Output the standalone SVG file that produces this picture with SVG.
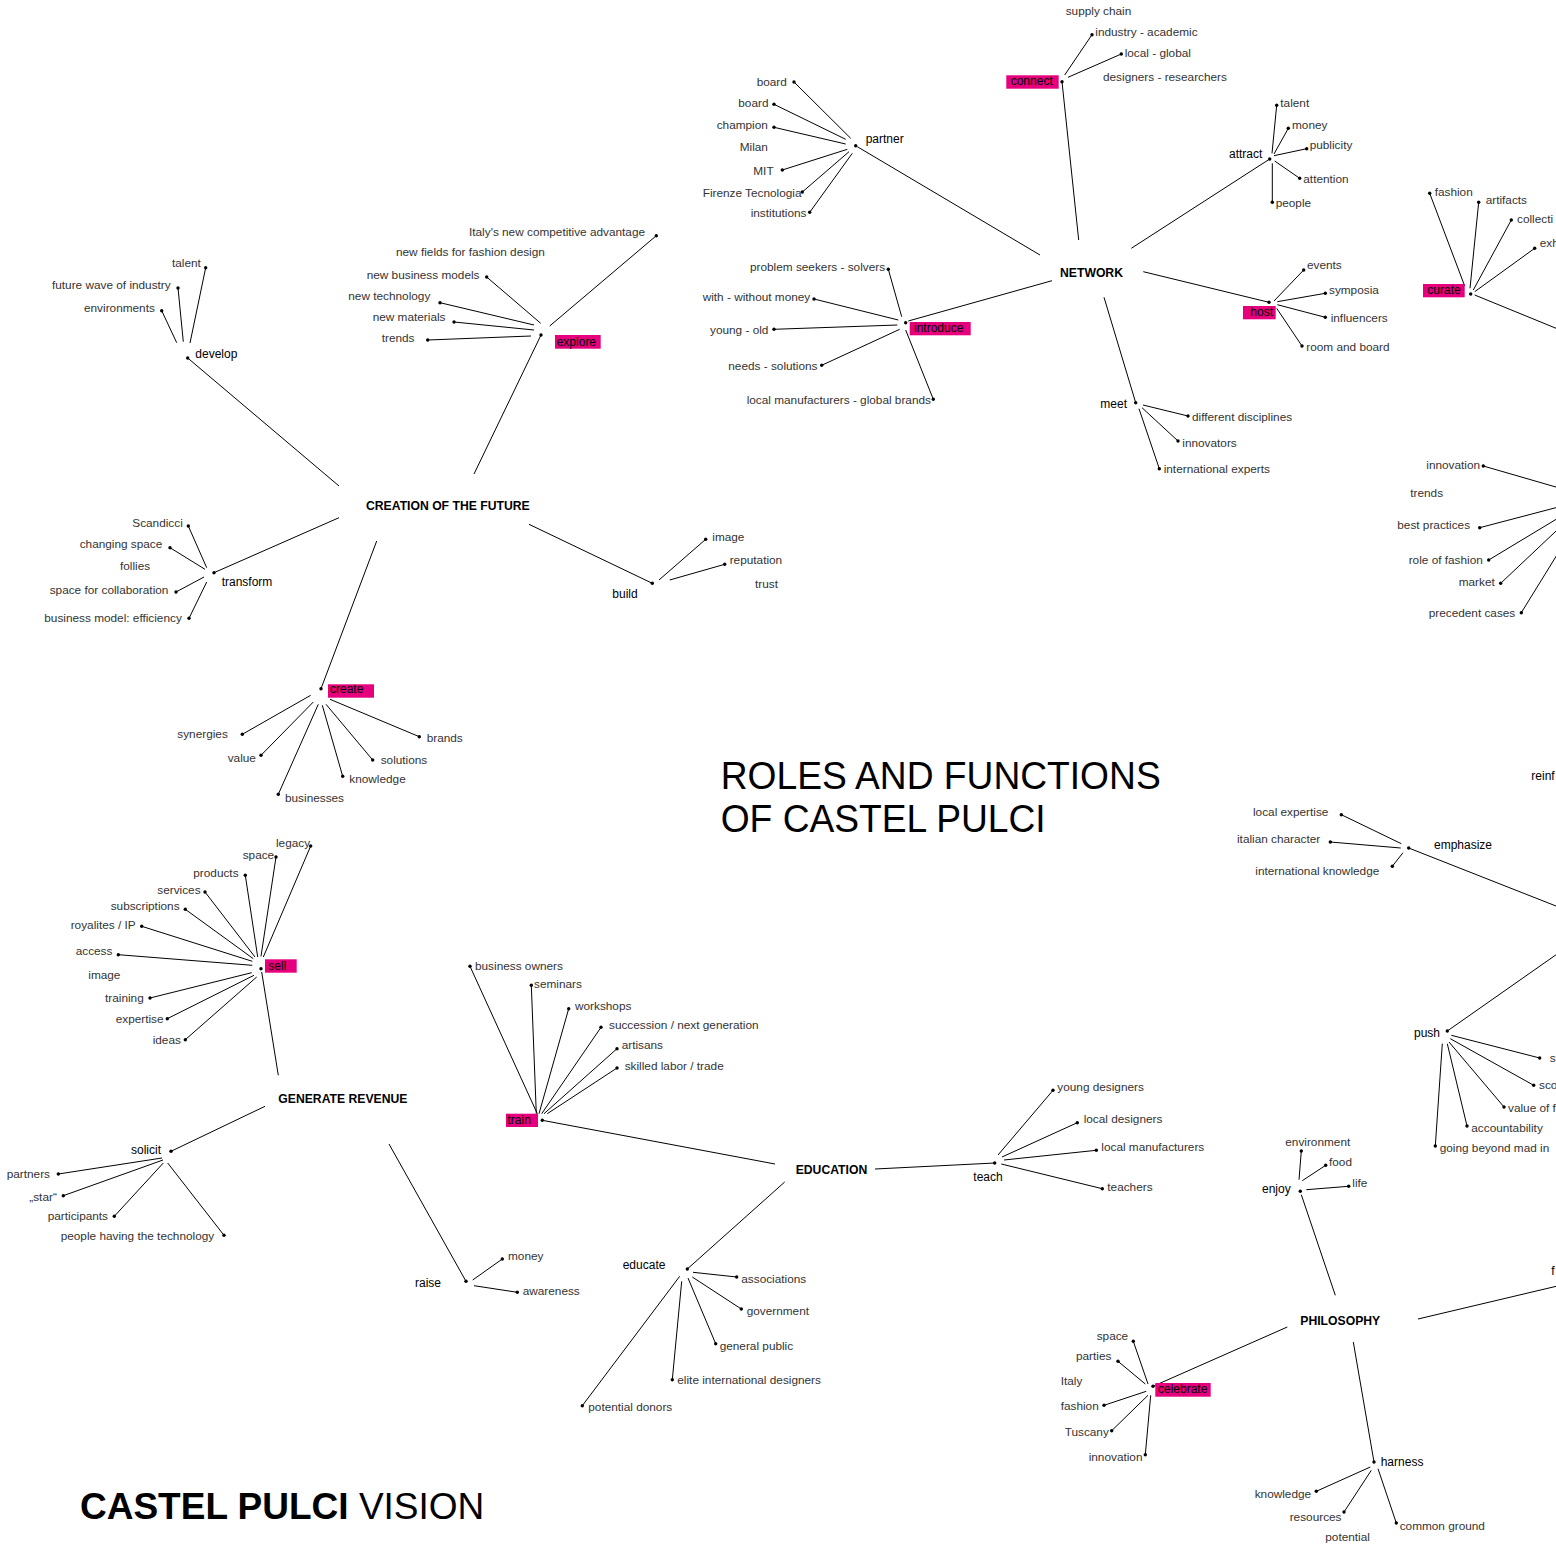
<svg xmlns="http://www.w3.org/2000/svg" xmlns:xlink="http://www.w3.org/1999/xlink" width="1556" height="1544" viewBox="0 0 1556 1544">
<style>
text{font-family:"Liberation Sans",Arial,Helvetica,sans-serif;font-size:12px}
.l{fill:#333;font-size:11.8px}
.v{fill:#000}
.c{fill:#000;font-weight:bold;font-size:12.2px}
.hl{fill:#e6007e}
.t{fill:#000;font-size:38px}
.b{fill:#000;font-size:37px}
#connectors line{stroke:#000;stroke-width:1;fill:none}
</style>
<defs><circle id="d" cx="0" cy="0" r="1.7" fill="#000"/></defs>
<rect width="1556" height="1544" fill="#fff"/>
<g id="connectors">
<line x1="205.7" y1="267.7" x2="190" y2="343"/><line x1="178" y1="288" x2="183.3" y2="341.7"/><line x1="161.7" y1="310.7" x2="176.7" y2="342.7"/><line x1="187.7" y1="358" x2="339" y2="486"/>
<line x1="656.3" y1="235.7" x2="549.7" y2="326"/><line x1="486.7" y1="277" x2="540.7" y2="323.3"/><line x1="440" y1="302.7" x2="534" y2="325"/><line x1="454" y1="322" x2="534" y2="330"/><line x1="427.7" y1="340" x2="531" y2="336"/><line x1="541" y1="335" x2="474" y2="474"/>
<line x1="339" y1="517.7" x2="214" y2="572.7"/><line x1="188.3" y1="526" x2="206.7" y2="567.7"/><line x1="170" y1="547.7" x2="205" y2="569.3"/><line x1="176" y1="592" x2="204" y2="577"/><line x1="189" y1="618.3" x2="206.7" y2="582"/>
<line x1="376.7" y1="541" x2="321" y2="688.7"/><line x1="242.3" y1="734.3" x2="310.7" y2="695.3"/><line x1="261" y1="755.3" x2="313.3" y2="702"/><line x1="278.3" y1="794.3" x2="318.3" y2="704.3"/><line x1="342.7" y1="776.3" x2="322.3" y2="705.3"/><line x1="372.7" y1="760" x2="326" y2="704.3"/><line x1="419.3" y1="736.7" x2="330" y2="699.3"/>
<line x1="529" y1="524.3" x2="652.3" y2="583.3"/><line x1="705.7" y1="539.3" x2="659" y2="580"/><line x1="724.7" y1="564.3" x2="669.7" y2="580"/>
<line x1="794" y1="82" x2="850.7" y2="138.3"/><line x1="774" y1="104.3" x2="845.7" y2="139.3"/><line x1="774" y1="127.3" x2="845.7" y2="144"/><line x1="782.3" y1="170" x2="847.3" y2="149.3"/><line x1="802.3" y1="192" x2="849" y2="151.7"/><line x1="809.7" y1="212.3" x2="852.3" y2="153.3"/><line x1="857.3" y1="146.7" x2="1040" y2="255"/>
<line x1="888.3" y1="269.3" x2="901.7" y2="316.7"/><line x1="814" y1="299" x2="898.3" y2="320"/><line x1="774" y1="329.3" x2="897.3" y2="325"/><line x1="821.7" y1="365.3" x2="899.7" y2="329.3"/><line x1="933.3" y1="399.3" x2="905.7" y2="330"/><line x1="908.3" y1="321" x2="1052" y2="280.7"/>
<line x1="1092" y1="34.7" x2="1064.7" y2="75"/><line x1="1121.3" y1="54" x2="1068" y2="77.3"/><line x1="1062" y1="81.7" x2="1078.7" y2="240"/>
<line x1="1131.3" y1="248.3" x2="1269.7" y2="159"/><line x1="1276.7" y1="105.3" x2="1272" y2="153.3"/><line x1="1288.3" y1="128.3" x2="1274" y2="154"/><line x1="1306.7" y1="148.7" x2="1274" y2="155.7"/><line x1="1299.7" y1="178.3" x2="1274.7" y2="161"/><line x1="1272.3" y1="202.3" x2="1272.3" y2="163.3"/>
<line x1="1143.3" y1="271.7" x2="1269" y2="302.3"/><line x1="1303.7" y1="270" x2="1274" y2="301"/><line x1="1325.3" y1="293.3" x2="1277.3" y2="301.7"/><line x1="1325.3" y1="317.3" x2="1277.3" y2="304.7"/><line x1="1302" y1="346" x2="1276.7" y2="308.3"/>
<line x1="1104" y1="297.3" x2="1135.7" y2="402.7"/><line x1="1188" y1="416" x2="1143" y2="405"/><line x1="1178" y1="441" x2="1142" y2="407.7"/><line x1="1159.3" y1="468.7" x2="1139" y2="408.7"/>
<line x1="1429.7" y1="193.3" x2="1464.7" y2="286"/><line x1="1478.7" y1="202.3" x2="1470" y2="288.3"/><line x1="1511.3" y1="220" x2="1473.3" y2="290"/><line x1="1534.7" y1="248.3" x2="1474.7" y2="291.7"/><line x1="1474.7" y1="295" x2="1560" y2="329.9"/>
<line x1="1483.3" y1="466" x2="1560" y2="488.2"/><line x1="1479.7" y1="527.7" x2="1560" y2="506.6"/><line x1="1488.7" y1="560" x2="1560" y2="517"/><line x1="1500.7" y1="583.3" x2="1560" y2="527.3"/><line x1="1521.3" y1="612.7" x2="1560" y2="550"/>
<line x1="1341.3" y1="814.7" x2="1401.3" y2="843.7"/><line x1="1330.3" y1="842" x2="1400.7" y2="848"/><line x1="1392.3" y1="866.3" x2="1403" y2="852.7"/><line x1="1408.7" y1="848" x2="1560" y2="907.6"/>
<line x1="1560" y1="952" x2="1447.3" y2="1031"/><line x1="1539.7" y1="1058" x2="1451.3" y2="1035.3"/><line x1="1533.7" y1="1085.3" x2="1450.3" y2="1038.7"/><line x1="1504" y1="1107" x2="1449" y2="1042"/><line x1="1467" y1="1126" x2="1447.3" y2="1043.7"/><line x1="1435.3" y1="1146" x2="1442.3" y2="1043.7"/>
<line x1="1301.3" y1="1151" x2="1299" y2="1179.7"/><line x1="1325.7" y1="1165.3" x2="1302.3" y2="1180.7"/><line x1="1348.7" y1="1186.3" x2="1306.3" y2="1189.7"/><line x1="1301.3" y1="1194.7" x2="1335.3" y2="1295.3"/>
<line x1="1418" y1="1319" x2="1560" y2="1285.4"/>
<line x1="1287.3" y1="1327" x2="1153" y2="1386.3"/><line x1="1133.3" y1="1341.3" x2="1148" y2="1384"/><line x1="1118" y1="1361.3" x2="1145.3" y2="1384"/><line x1="1104" y1="1405.3" x2="1146.3" y2="1391.3"/><line x1="1111.7" y1="1430.7" x2="1148" y2="1395.3"/><line x1="1145.3" y1="1454.7" x2="1150.7" y2="1395.3"/>
<line x1="1353.3" y1="1342" x2="1374" y2="1462"/><line x1="1316.3" y1="1491.3" x2="1370.3" y2="1467"/><line x1="1344" y1="1512" x2="1371.3" y2="1470.3"/><line x1="1396.3" y1="1523" x2="1378" y2="1468.7"/>
<line x1="875" y1="1169" x2="994.7" y2="1163"/><line x1="1053" y1="1090.3" x2="998" y2="1155"/><line x1="1077.3" y1="1122.7" x2="1002" y2="1157"/><line x1="1096.3" y1="1150.3" x2="1004" y2="1160"/><line x1="1102.3" y1="1188.7" x2="1001.3" y2="1164"/>
<line x1="784.7" y1="1182" x2="687.3" y2="1269"/><line x1="736.7" y1="1277" x2="693" y2="1272.3"/><line x1="741.3" y1="1309" x2="692.3" y2="1277"/><line x1="715.7" y1="1343.7" x2="688" y2="1278"/><line x1="672.3" y1="1379.7" x2="681.7" y2="1281.3"/><line x1="582.3" y1="1405.7" x2="679.7" y2="1276.3"/>
<line x1="542.3" y1="1120.3" x2="775" y2="1164"/><line x1="470" y1="966.3" x2="537.3" y2="1113.7"/><line x1="531.3" y1="985.3" x2="536.3" y2="1113.7"/><line x1="568.7" y1="1008.7" x2="539" y2="1113.7"/><line x1="601" y1="1027.3" x2="541.7" y2="1113.7"/><line x1="617" y1="1048.7" x2="544" y2="1113.7"/><line x1="617" y1="1068" x2="547.3" y2="1113.7"/>
<line x1="261.7" y1="972" x2="278.3" y2="1075.3"/><line x1="310.7" y1="846" x2="263.3" y2="957"/><line x1="276" y1="857" x2="261" y2="956.3"/><line x1="245.3" y1="875.3" x2="257.7" y2="957"/><line x1="205" y1="892" x2="255" y2="957"/><line x1="185.3" y1="909.3" x2="253.3" y2="958.7"/><line x1="141.7" y1="926.3" x2="252.3" y2="961.3"/><line x1="118.3" y1="954.7" x2="252.3" y2="965.3"/><line x1="150" y1="998" x2="251.7" y2="972.7"/><line x1="167.3" y1="1018.7" x2="254" y2="975.3"/><line x1="185.3" y1="1039.7" x2="256.7" y2="977"/>
<line x1="265" y1="1106.3" x2="171" y2="1151.3"/><line x1="58.3" y1="1174" x2="162" y2="1158"/><line x1="63.3" y1="1195.7" x2="163" y2="1160"/><line x1="114.3" y1="1216.3" x2="163.3" y2="1163"/><line x1="224" y1="1235.3" x2="167.7" y2="1163"/>
<line x1="389" y1="1144" x2="466" y2="1281.3"/><line x1="472.7" y1="1280" x2="502.3" y2="1259"/><line x1="474" y1="1285.7" x2="517.3" y2="1292.3"/>
</g>

<g id="title">
<text class="t" x="720.7" y="789" textLength="440" lengthAdjust="spacingAndGlyphs">ROLES AND FUNCTIONS</text>
<text class="t" x="720.7" y="832" textLength="325" lengthAdjust="spacingAndGlyphs">OF CASTEL PULCI</text>
</g>
<g id="vision"><text class="b" x="80" y="1518.7"><tspan font-weight="bold">CASTEL PULCI</tspan> VISION</text></g>

<g id="n-creation"><text class="c" x="366" y="510">CREATION OF THE FUTURE</text></g>
<g id="n-network"><text class="c" x="1060" y="276.7">NETWORK</text></g>
<g id="n-revenue"><text class="c" x="278.3" y="1102.7">GENERATE REVENUE</text></g>
<g id="n-education"><text class="c" x="795.7" y="1174">EDUCATION</text></g>
<g id="n-philosophy"><text class="c" x="1300.3" y="1325.3">PHILOSOPHY</text></g>

<g id="n-develop"><text class="v" x="195.3" y="358">develop</text><use href="#d" x="187.7" y="358"/></g>
<g id="n-dev-talent"><text class="l" x="172" y="267">talent</text><use href="#d" x="205.7" y="267.7"/></g>
<g id="n-dev-future"><text class="l" x="52" y="289">future wave of industry</text><use href="#d" x="178" y="288"/></g>
<g id="n-dev-env"><text class="l" x="84" y="312">environments</text><use href="#d" x="161.7" y="310.7"/></g>

<g id="n-explore"><rect class="hl" x="555" y="335" width="45.7" height="13.7"/><text class="v" x="556.7" y="345.7">explore</text><use href="#d" x="541" y="335"/></g>
<g id="n-exp-italy"><text class="l" x="469" y="236">Italy's new competitive advantage</text><use href="#d" x="656.3" y="235.7"/></g>
<g id="n-exp-fields"><text class="l" x="396" y="256">new fields for fashion design</text></g>
<g id="n-exp-bm"><text class="l" x="366.7" y="279">new business models</text><use href="#d" x="486.7" y="277"/></g>
<g id="n-exp-tech"><text class="l" x="348.3" y="300">new technology</text><use href="#d" x="440" y="302.7"/></g>
<g id="n-exp-mat"><text class="l" x="372.7" y="320.7">new materials</text><use href="#d" x="454" y="322"/></g>
<g id="n-exp-trends"><text class="l" x="381.7" y="342">trends</text><use href="#d" x="427.7" y="340"/></g>

<g id="n-transform"><text class="v" x="221.7" y="586">transform</text><use href="#d" x="214" y="572.7"/></g>
<g id="n-tr-scandicci"><text class="l" x="132.3" y="526.7">Scandicci</text><use href="#d" x="188.3" y="526"/></g>
<g id="n-tr-changing"><text class="l" x="79.7" y="547.7">changing space</text><use href="#d" x="170" y="547.7"/></g>
<g id="n-tr-follies"><text class="l" x="120" y="570.3">follies</text></g>
<g id="n-tr-space"><text class="l" x="49.7" y="594.3">space for collaboration</text><use href="#d" x="176" y="592"/></g>
<g id="n-tr-bm"><text class="l" x="44.3" y="621.7">business model: efficiency</text><use href="#d" x="189" y="618.3"/></g>

<g id="n-create"><rect class="hl" x="328" y="684.3" width="46" height="13.4"/><text class="v" x="330" y="693.3">create</text><use href="#d" x="321" y="688.7"/></g>
<g id="n-cr-synergies"><text class="l" x="177.3" y="738.3">synergies</text><use href="#d" x="242.3" y="734.3"/></g>
<g id="n-cr-value"><text class="l" x="227.7" y="761.7">value</text><use href="#d" x="261" y="755.3"/></g>
<g id="n-cr-businesses"><text class="l" x="285" y="802">businesses</text><use href="#d" x="278.3" y="794.3"/></g>
<g id="n-cr-knowledge"><text class="l" x="349.3" y="782.7">knowledge</text><use href="#d" x="342.7" y="776.3"/></g>
<g id="n-cr-solutions"><text class="l" x="380.7" y="764.3">solutions</text><use href="#d" x="372.7" y="760"/></g>
<g id="n-cr-brands"><text class="l" x="426.7" y="742">brands</text><use href="#d" x="419.3" y="736.7"/></g>

<g id="n-build"><text class="v" x="612.3" y="597.7">build</text><use href="#d" x="652.3" y="583.3"/></g>
<g id="n-bu-image"><text class="l" x="712.3" y="541">image</text><use href="#d" x="705.7" y="539.3"/></g>
<g id="n-bu-reputation"><text class="l" x="729.7" y="564.3">reputation</text><use href="#d" x="724.7" y="564.3"/></g>
<g id="n-bu-trust"><text class="l" x="755" y="587.7">trust</text></g>

<g id="n-partner"><text class="v" x="865.7" y="142.7">partner</text><use href="#d" x="855.7" y="145.7"/></g>
<g id="n-pa-board1"><text class="l" x="756.7" y="86">board</text><use href="#d" x="794" y="82"/></g>
<g id="n-pa-board2"><text class="l" x="738.3" y="106.7">board</text><use href="#d" x="774" y="104.3"/></g>
<g id="n-pa-champion"><text class="l" x="716.7" y="129">champion</text><use href="#d" x="774" y="127.3"/></g>
<g id="n-pa-milan"><text class="l" x="739.7" y="151">Milan</text></g>
<g id="n-pa-mit"><text class="l" x="753.3" y="175">MIT</text><use href="#d" x="782.3" y="170"/></g>
<g id="n-pa-firenze"><text class="l" x="702.7" y="196.7">Firenze Tecnologia</text><use href="#d" x="802.3" y="192"/></g>
<g id="n-pa-inst"><text class="l" x="750.7" y="216.7">institutions</text><use href="#d" x="809.7" y="212.3"/></g>

<g id="n-introduce"><rect class="hl" x="909.7" y="322" width="61" height="13.3"/><text class="v" x="914" y="332.3">introduce</text><use href="#d" x="905.7" y="322.7"/></g>
<g id="n-in-problem"><text class="l" x="750" y="270.7">problem seekers - solvers</text><use href="#d" x="888.3" y="269.3"/></g>
<g id="n-in-money"><text class="l" x="702.7" y="300.7">with - without money</text><use href="#d" x="814" y="299"/></g>
<g id="n-in-young"><text class="l" x="710" y="334">young - old</text><use href="#d" x="774" y="329.3"/></g>
<g id="n-in-needs"><text class="l" x="728.3" y="370">needs - solutions</text><use href="#d" x="821.7" y="365.3"/></g>
<g id="n-in-local"><text class="l" x="746.7" y="404.3">local manufacturers - global brands</text><use href="#d" x="933.3" y="399.3"/></g>

<g id="n-connect"><rect class="hl" x="1006.3" y="75.3" width="52.4" height="13.4"/><text class="v" x="1010.7" y="85">connect</text><use href="#d" x="1062" y="81.7"/></g>
<g id="n-co-supply"><text class="l" x="1065.7" y="15">supply chain</text></g>
<g id="n-co-industry"><text class="l" x="1095.3" y="35.7">industry - academic</text><use href="#d" x="1092" y="34.7"/></g>
<g id="n-co-local"><text class="l" x="1124.7" y="56.7">local - global</text><use href="#d" x="1121.3" y="54"/></g>
<g id="n-co-designers"><text class="l" x="1103" y="80.7">designers - researchers</text></g>

<g id="n-attract"><text class="v" x="1229" y="158.3">attract</text><use href="#d" x="1269.7" y="159"/></g>
<g id="n-at-talent"><text class="l" x="1280.3" y="106.7">talent</text><use href="#d" x="1276.7" y="105.3"/></g>
<g id="n-at-money"><text class="l" x="1292" y="129">money</text><use href="#d" x="1288.3" y="128.3"/></g>
<g id="n-at-publicity"><text class="l" x="1309.7" y="149.3">publicity</text><use href="#d" x="1306.7" y="148.7"/></g>
<g id="n-at-attention"><text class="l" x="1303.3" y="182.7">attention</text><use href="#d" x="1299.7" y="178.3"/></g>
<g id="n-at-people"><text class="l" x="1275.7" y="206.7">people</text><use href="#d" x="1272.3" y="202.3"/></g>

<g id="n-host"><rect class="hl" x="1243" y="306" width="32.7" height="13.3"/><text class="v" x="1250.3" y="316">host</text><use href="#d" x="1269" y="302.3"/></g>
<g id="n-ho-events"><text class="l" x="1307" y="269.3">events</text><use href="#d" x="1303.7" y="270"/></g>
<g id="n-ho-symposia"><text class="l" x="1329" y="294">symposia</text><use href="#d" x="1325.3" y="293.3"/></g>
<g id="n-ho-influencers"><text class="l" x="1330.7" y="321.7">influencers</text><use href="#d" x="1325.3" y="317.3"/></g>
<g id="n-ho-room"><text class="l" x="1306.3" y="350.7">room and board</text><use href="#d" x="1302" y="346"/></g>

<g id="n-meet"><text class="v" x="1100.3" y="407.7">meet</text><use href="#d" x="1135.7" y="402.7"/></g>
<g id="n-me-disc"><text class="l" x="1192" y="421">different disciplines</text><use href="#d" x="1188" y="416"/></g>
<g id="n-me-innov"><text class="l" x="1182.3" y="447">innovators</text><use href="#d" x="1178" y="441"/></g>
<g id="n-me-intl"><text class="l" x="1163.7" y="473.3">international experts</text><use href="#d" x="1159.3" y="468.7"/></g>

<g id="n-curate"><rect class="hl" x="1423" y="284" width="41.7" height="13.3"/><text class="v" x="1427.3" y="294">curate</text><use href="#d" x="1470.7" y="294"/></g>
<g id="n-cu-fashion"><text class="l" x="1434.7" y="196">fashion</text><use href="#d" x="1429.7" y="193.3"/></g>
<g id="n-cu-artifacts"><text class="l" x="1485.7" y="204">artifacts</text><use href="#d" x="1478.7" y="202.3"/></g>
<g id="n-cu-collections"><text class="l" x="1517" y="223.3">collecti</text><use href="#d" x="1511.3" y="220"/></g>
<g id="n-cu-exhibitions"><text class="l" x="1539.7" y="247.3">exh</text><use href="#d" x="1534.7" y="248.3"/></g>

<g id="n-rc-innovation"><text class="l" x="1426.3" y="468.7">innovation</text><use href="#d" x="1483.3" y="466"/></g>
<g id="n-rc-trends"><text class="l" x="1410.3" y="497">trends</text></g>
<g id="n-rc-best"><text class="l" x="1397.3" y="529.3">best practices</text><use href="#d" x="1479.7" y="527.7"/></g>
<g id="n-rc-role"><text class="l" x="1408.7" y="564.3">role of fashion</text><use href="#d" x="1488.7" y="560"/></g>
<g id="n-rc-market"><text class="l" x="1458.7" y="586">market</text><use href="#d" x="1500.7" y="583.3"/></g>
<g id="n-rc-precedent"><text class="l" x="1428.7" y="616.7">precedent cases</text><use href="#d" x="1521.3" y="612.7"/></g>
<g id="n-reinforce"><text class="v" x="1531.3" y="780.3">reinf</text></g>

<g id="n-emphasize"><text class="v" x="1434" y="849.3">emphasize</text><use href="#d" x="1408.7" y="848"/></g>
<g id="n-em-local"><text class="l" x="1253" y="816">local expertise</text><use href="#d" x="1341.3" y="814.7"/></g>
<g id="n-em-italian"><text class="l" x="1237" y="842.7">italian character</text><use href="#d" x="1330.3" y="842"/></g>
<g id="n-em-intl"><text class="l" x="1255.3" y="874.7">international knowledge</text><use href="#d" x="1392.3" y="866.3"/></g>

<g id="n-push"><text class="v" x="1414" y="1037">push</text><use href="#d" x="1447.3" y="1031"/></g>
<g id="n-pu-s"><text class="l" x="1549.7" y="1062">s</text><use href="#d" x="1539.7" y="1058"/></g>
<g id="n-pu-sco"><text class="l" x="1539" y="1088.7">sco</text><use href="#d" x="1533.7" y="1085.3"/></g>
<g id="n-pu-value"><text class="l" x="1508" y="1112">value of f</text><use href="#d" x="1504" y="1107"/></g>
<g id="n-pu-acc"><text class="l" x="1471.3" y="1132">accountability</text><use href="#d" x="1467" y="1126"/></g>
<g id="n-pu-going"><text class="l" x="1439.7" y="1152">going beyond mad in</text><use href="#d" x="1435.3" y="1146"/></g>

<g id="n-enjoy"><text class="v" x="1262" y="1193">enjoy</text><use href="#d" x="1300.3" y="1191.3"/></g>
<g id="n-en-env"><text class="l" x="1285.3" y="1146">environment</text><use href="#d" x="1301.3" y="1151"/></g>
<g id="n-en-food"><text class="l" x="1329" y="1166.3">food</text><use href="#d" x="1325.7" y="1165.3"/></g>
<g id="n-en-life"><text class="l" x="1352.3" y="1187.3">life</text><use href="#d" x="1348.7" y="1186.3"/></g>
<g id="n-ph-f"><text class="v" x="1551.3" y="1275.3">f</text></g>

<g id="n-celebrate"><rect class="hl" x="1155.3" y="1383" width="55.4" height="13.7"/><text class="v" x="1158" y="1393">celebrate</text><use href="#d" x="1153" y="1386.3"/></g>
<g id="n-ce-space"><text class="l" x="1096.7" y="1339.7">space</text><use href="#d" x="1133.3" y="1341.3"/></g>
<g id="n-ce-parties"><text class="l" x="1076" y="1359.7">parties</text><use href="#d" x="1118" y="1361.3"/></g>
<g id="n-ce-italy"><text class="l" x="1060.7" y="1384.7">Italy</text></g>
<g id="n-ce-fashion"><text class="l" x="1060.7" y="1409.7">fashion</text><use href="#d" x="1104" y="1405.3"/></g>
<g id="n-ce-tuscany"><text class="l" x="1064.7" y="1436.3">Tuscany</text><use href="#d" x="1111.7" y="1430.7"/></g>
<g id="n-ce-innovation"><text class="l" x="1088.7" y="1460.7">innovation</text><use href="#d" x="1145.3" y="1454.7"/></g>

<g id="n-harness"><text class="v" x="1380.7" y="1466.3">harness</text><use href="#d" x="1374" y="1462"/></g>
<g id="n-ha-knowledge"><text class="l" x="1254.7" y="1498">knowledge</text><use href="#d" x="1316.3" y="1491.3"/></g>
<g id="n-ha-resources"><text class="l" x="1289.7" y="1520.7">resources</text><use href="#d" x="1344" y="1512"/></g>
<g id="n-ha-potential"><text class="l" x="1325.3" y="1541.3">potential</text></g>
<g id="n-ha-common"><text class="l" x="1399.7" y="1529.7">common ground</text><use href="#d" x="1396.3" y="1523"/></g>

<g id="n-teach"><text class="v" x="973.3" y="1180.7">teach</text><use href="#d" x="994.7" y="1163"/></g>
<g id="n-te-young"><text class="l" x="1057.3" y="1091.3">young designers</text><use href="#d" x="1053" y="1090.3"/></g>
<g id="n-te-localdes"><text class="l" x="1083.7" y="1122.7">local designers</text><use href="#d" x="1077.3" y="1122.7"/></g>
<g id="n-te-localman"><text class="l" x="1101.3" y="1151">local manufacturers</text><use href="#d" x="1096.3" y="1150.3"/></g>
<g id="n-te-teachers"><text class="l" x="1107.3" y="1190.7">teachers</text><use href="#d" x="1102.3" y="1188.7"/></g>

<g id="n-educate"><text class="v" x="622.7" y="1269">educate</text><use href="#d" x="687.3" y="1269"/></g>
<g id="n-ed-assoc"><text class="l" x="741.3" y="1283">associations</text><use href="#d" x="736.7" y="1277"/></g>
<g id="n-ed-gov"><text class="l" x="746.7" y="1315.3">government</text><use href="#d" x="741.3" y="1309"/></g>
<g id="n-ed-public"><text class="l" x="719.7" y="1350.3">general public</text><use href="#d" x="715.7" y="1343.7"/></g>
<g id="n-ed-elite"><text class="l" x="677.3" y="1384">elite international designers</text><use href="#d" x="672.3" y="1379.7"/></g>
<g id="n-ed-donors"><text class="l" x="588.3" y="1411.3">potential donors</text><use href="#d" x="582.3" y="1405.7"/></g>

<g id="n-train"><rect class="hl" x="506" y="1113.7" width="32" height="13.3"/><text class="v" x="507.5" y="1123.7">train</text><use href="#d" x="542.3" y="1120.3"/></g>
<g id="n-tr-owners"><text class="l" x="475" y="970.3">business owners</text><use href="#d" x="470" y="966.3"/></g>
<g id="n-tr-seminars"><text class="l" x="534" y="988">seminars</text><use href="#d" x="531.3" y="985.3"/></g>
<g id="n-tr-workshops"><text class="l" x="575" y="1010.3">workshops</text><use href="#d" x="568.7" y="1008.7"/></g>
<g id="n-tr-succession"><text class="l" x="609" y="1028.7">succession / next generation</text><use href="#d" x="601" y="1027.3"/></g>
<g id="n-tr-artisans"><text class="l" x="621.7" y="1049.3">artisans</text><use href="#d" x="617" y="1048.7"/></g>
<g id="n-tr-skilled"><text class="l" x="624.7" y="1069.7">skilled labor / trade</text><use href="#d" x="617" y="1068"/></g>

<g id="n-sell"><rect class="hl" x="265" y="959.3" width="31.7" height="13.4"/><text class="v" x="268.3" y="969.7">sell</text><use href="#d" x="261" y="968.7"/></g>
<g id="n-se-legacy"><text class="l" x="276" y="847">legacy</text><use href="#d" x="310.7" y="846"/></g>
<g id="n-se-space"><text class="l" x="242.7" y="858.7">space</text><use href="#d" x="276" y="857"/></g>
<g id="n-se-products"><text class="l" x="193.3" y="877">products</text><use href="#d" x="245.3" y="875.3"/></g>
<g id="n-se-services"><text class="l" x="157.3" y="893.7">services</text><use href="#d" x="205" y="892"/></g>
<g id="n-se-subs"><text class="l" x="110.7" y="910.3">subscriptions</text><use href="#d" x="185.3" y="909.3"/></g>
<g id="n-se-royal"><text class="l" x="70.7" y="928.7">royalites / IP</text><use href="#d" x="141.7" y="926.3"/></g>
<g id="n-se-access"><text class="l" x="75.7" y="955.3">access</text><use href="#d" x="118.3" y="954.7"/></g>
<g id="n-se-image"><text class="l" x="88.3" y="979.3">image</text></g>
<g id="n-se-training"><text class="l" x="105" y="1002">training</text><use href="#d" x="150" y="998"/></g>
<g id="n-se-expertise"><text class="l" x="115.7" y="1022.7">expertise</text><use href="#d" x="167.3" y="1018.7"/></g>
<g id="n-se-ideas"><text class="l" x="152.7" y="1044.3">ideas</text><use href="#d" x="185.3" y="1039.7"/></g>

<g id="n-solicit"><text class="v" x="131" y="1153.7">solicit</text><use href="#d" x="171" y="1151.3"/></g>
<g id="n-so-partners"><text class="l" x="6.7" y="1178">partners</text><use href="#d" x="58.3" y="1174"/></g>
<g id="n-so-star"><text class="l" x="29.3" y="1200.7">„star“</text><use href="#d" x="63.3" y="1195.7"/></g>
<g id="n-so-participants"><text class="l" x="47.7" y="1219.7">participants</text><use href="#d" x="114.3" y="1216.3"/></g>
<g id="n-so-people"><text class="l" x="60.7" y="1239.7">people having the technology</text><use href="#d" x="224" y="1235.3"/></g>

<g id="n-raise"><text class="v" x="415" y="1287.3">raise</text><use href="#d" x="466" y="1281.3"/></g>
<g id="n-ra-money"><text class="l" x="508" y="1260">money</text><use href="#d" x="502.3" y="1259"/></g>
<g id="n-ra-awareness"><text class="l" x="522.7" y="1294.7">awareness</text><use href="#d" x="517.3" y="1292.3"/></g>
</svg>
